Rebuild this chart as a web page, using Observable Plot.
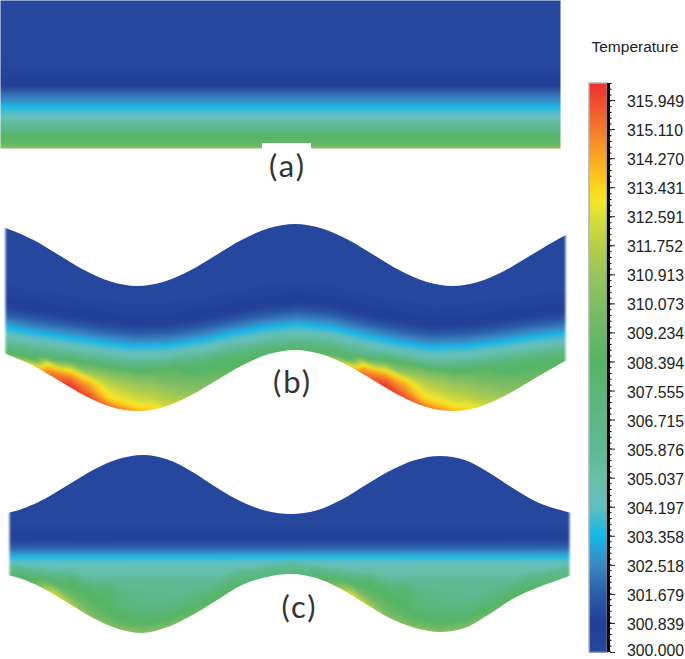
<!DOCTYPE html>
<html>
<head>
<meta charset="utf-8">
<style>html,body{margin:0;padding:0;background:#fff}svg{display:block}.panel-label text{letter-spacing:2px}</style>
<script src="https://cdn.jsdelivr.net/npm/d3@7"></script>
<script src="https://cdn.jsdelivr.net/npm/@observablehq/plot@0.6"></script>
</head>
<body>
<div id="chart"></div>
<script>
const colorStops = [300, 300.84, 301.68, 302.52, 303.4, 304.2, 305.04, 305.88, 307.55, 308.39, 310.07, 310.91, 311.75, 312.59, 313.0, 313.43, 314.27, 315.11, 316.44];
const colorRange = ["#25489f", "#233f98", "#2a5ca8", "#3a88c4", "#17b8e8", "#61bec0", "#66bfa8", "#5eba96", "#5ab678", "#55b565", "#7fbd64", "#98c65c", "#b7cf46", "#d9de3c", "#f4e62b", "#fdd719", "#f9a825", "#f37a2c", "#ee3030"];
const tickLabels = ["315.949", "315.110", "314.270", "313.431", "312.591", "311.752", "310.913", "310.073", "309.234", "308.394", "307.555", "306.715", "305.876", "305.037", "304.197", "303.358", "302.518", "301.679", "300.839", "300.000"];

// Panel (a)
const aProfileDy = [-400, -45, -21, -13, -4, 0, 3, 11, 20, 30, 38, 42];
const aProfileT = [300, 300.1, 300.8, 302, 302.8, 303.4, 303.7, 304.4, 306, 308.3, 309, 310.6];
const aCyanY = 106;

// Panel (b): walls, cyan front, temperature by distance from the front, heat by distance from the lower wall
const bTopX = [0, 6.25, 32.5, 58.75, 85, 111.25, 137.5, 163.75, 190, 216.25, 242.5, 268.75, 295, 321.25, 347.5, 373.75, 400, 426.25, 452.5, 478.75, 505, 531.25, 557.5, 572];
const bTopY = [226.5, 228.2, 239.5, 255, 270.5, 281.8, 286, 281.8, 270.5, 255, 239.5, 228.2, 224, 228.2, 239.5, 255, 270.5, 281.8, 286, 281.8, 270.5, 255, 239.5, 232];
const bBotX = [0, 6.25, 32.5, 58.75, 85, 111.25, 137.5, 163.75, 190, 216.25, 242.5, 268.75, 295, 321.25, 347.5, 373.75, 400, 426.25, 452.5, 478.75, 505, 531.25, 557.5, 572];
const bBotY = [351, 354.1, 365.25, 380.5, 395.75, 406.9, 411, 406.9, 395.75, 380.5, 365.25, 354.1, 350, 354.1, 365.25, 380.5, 395.75, 406.9, 411, 406.9, 395.75, 380.5, 365.25, 357.5];
const bCyanX = [5, 33, 67, 100, 133, 167, 200, 233, 267, 297, 330, 363, 397, 430, 463, 497, 530, 565];
const bCyanY = [327, 332, 337, 342, 346, 345, 340, 333, 327, 324, 327, 335, 342, 347, 346, 342, 337, 333];
const bProfileDy = [-400, -45, -28, -20, -12, -6, -2, 0, 2, 7, 14, 21, 28, 100];
const bProfileT = [300, 300.1, 300.7, 301, 301.8, 302.5, 303.1, 303.4, 303.7, 304.3, 305.6, 307.6, 308.3, 308.4];
const depthRows = [0, 3, 7, 12, 18, 25, 35, 45];
const bHeatX = [5, 33, 47, 70, 88, 107, 130, 153, 175, 200, 233, 267, 315];
const bHeatPeriod = 315;
const bHeatT = [
  [308.6, 308.0, 307.4, 306.0, 300, 300, 300, 300],
  [313.8, 311.5, 308.2, 307.0, 304, 300, 300, 300],
  [315.2, 314.8, 314.0, 312.2, 307.4, 304, 300, 300],
  [316.4, 316.2, 315.6, 314.6, 313.0, 309.4, 306.0, 300],
  [316.0, 315.6, 315.1, 314.5, 313.5, 311.0, 308.4, 304],
  [315.2, 314.6, 313.6, 313.0, 312.5, 311.6, 309.8, 306.0],
  [314.6, 313.8, 313.2, 312.6, 312.0, 311.3, 310.0, 307.0],
  [313.4, 313.0, 312.5, 311.9, 311.4, 310.6, 309.2, 307.0],
  [312.0, 311.6, 311.2, 310.7, 310.2, 309.4, 308.6, 306.0],
  [310.6, 310.2, 309.7, 309.2, 308.6, 307.6, 305, 300],
  [309.0, 308.6, 308.2, 307.6, 306.0, 300, 300, 300],
  [308.0, 307.5, 306.0, 304, 300, 300, 300, 300],
  [308.6, 308.0, 307.4, 306.0, 300, 300, 300, 300]
];

// Panel (c)
const cTopX = [3, 9, 19.25, 44, 68.75, 93.5, 118.25, 143, 167.75, 192.5, 217.25, 242, 266.75, 291.5, 316.25, 341, 365.75, 390.5, 415.25, 440, 464.75, 489.5, 514.25, 539, 563.75, 576];
const cTopY = [514, 512.5, 510, 499.25, 484.5, 469.75, 459, 455, 459.5, 472, 488, 502, 511, 514, 510.5, 500, 485, 470.5, 460, 456, 460, 473, 489, 503, 511, 514];
const cBotX = [3, 9, 19.25, 44, 68.75, 93.5, 118.25, 143, 167.75, 192.5, 217.25, 242, 266.75, 291.5, 316.25, 341, 365.75, 390.5, 415.25, 440, 464.75, 489.5, 514.25, 539, 563.75, 576];
const cBotY = [573.5, 575.5, 578, 588.75, 603.5, 618.25, 629, 633, 627, 615, 600, 585, 577, 574, 578, 589, 604, 618.5, 628, 632, 628, 614, 598, 587, 578, 573.5];
const cCyanX = [9, 569];
const cCyanY = [556, 555.5];
const cProfileDy = [-400, -32, -20, -14, -8, -3, 0, 2, 7, 15, 24, 40, 80];
const cProfileT = [300, 300.1, 300.7, 301.2, 301.9, 302.7, 303.4, 303.7, 304.3, 305, 305.8, 306.2, 306.4];
const cHeatX = [9, 33, 53, 70, 87, 107, 130, 167, 200, 233, 267, 293];
const cHeatPeriod = 297;
const cHeatT = [
  [307.8, 307.0, 306.0, 305.5, 300, 300, 300, 300],
  [309.5, 308.8, 308.0, 306.5, 305.0, 300, 300, 300],
  [312.8, 312.0, 310.5, 308.6, 307.0, 305.0, 300, 300],
  [311.8, 311.2, 310.0, 309.0, 308.5, 308.0, 305.0, 300],
  [310.5, 310.0, 309.4, 309.0, 308.5, 308.3, 306.5, 300],
  [310.2, 309.6, 309.0, 308.6, 308.3, 308.2, 308.0, 306.0],
  [310.6, 309.8, 308.8, 308.3, 307.9, 307.2, 306.8, 306.2],
  [310.2, 309.6, 308.8, 308.0, 307.4, 306.8, 306.4, 306.0],
  [309.2, 308.8, 308.2, 307.6, 307.0, 306.4, 300, 300],
  [308.6, 308.2, 307.6, 307.0, 306.0, 300, 300, 300],
  [307.4, 307.0, 306.4, 305.5, 300, 300, 300, 300],
  [307.2, 306.8, 306.2, 305.5, 300, 300, 300, 300]
];

const labelText = ["(a)", "(b)", "(c)"];

const pw = (xs, ys) => d3.scaleLinear().domain(xs).range(ys).clamp(true);

function field({cyanX, cyanY, botX, botY, profileDy, profileT, heatX, heatT, period}) {
  const cy = pw(cyanX, cyanY);
  const bot = pw(botX, botY);
  const prof = pw(profileDy, profileT);
  const lastX = heatX[heatX.length - 1];
  const rows = depthRows.map((_, k) => pw(heatX, heatT.map((c) => c[k])));
  return (x, y) => {
    const base = prof(y - cy(x));
    const hx = x > lastX ? x - period : x;
    const d = bot(x) - y;
    const vals = rows.map((r) => r(hx));
    const h = pw(depthRows, vals)(Math.max(0, d));
    return d > depthRows[depthRows.length - 1] ? base : Math.max(base, h);
  };
}

const profA = pw(aProfileDy, aProfileT);
const fieldA = (x, y) => profA(y - aCyanY);
const fieldB = field({cyanX: bCyanX, cyanY: bCyanY, botX: bBotX, botY: bBotY, profileDy: bProfileDy, profileT: bProfileT, heatX: bHeatX, heatT: bHeatT, period: bHeatPeriod});
const fieldC = field({cyanX: cCyanX, cyanY: cCyanY, botX: cBotX, botY: cBotY, profileDy: cProfileDy, profileT: cProfileT, heatX: cHeatX, heatT: cHeatT, period: cHeatPeriod});

const tickT = tickLabels.map(Number);
const tickPos = d3.scaleLinear().domain([300, 315.949]).range([652, 100]);
const barField = (x, y) => tickPos.invert(y);
const minorY = d3.range(83, 653, 5.8);

const curve = "catmull-rom";
const zip = (xs, ys) => xs.map((x, i) => ({x, y: ys[i]}));

const plot = Plot.plot({
  width: 685,
  height: 659,
  margin: 0,
  style: {background: "#fff", overflow: "hidden"},
  x: {axis: null, domain: [0, 685], range: [0, 685]},
  y: {axis: null, domain: [0, 659], range: [0, 659]},
  color: {type: "linear", domain: colorStops, range: colorRange, interpolate: "rgb", clamp: true},
  marks: [
    Plot.raster({fill: fieldA, x1: 0, x2: 560, y1: 0, y2: 148, pixelSize: 1}),
    Plot.rect([{x1: 262, x2: 311, y1: 143, y2: 149}], {x1: "x1", x2: "x2", y1: "y1", y2: "y2", fill: "#fff"}),

    Plot.raster({fill: fieldB, x1: 5, x2: 565, y1: 220, y2: 415, pixelSize: 1, imageFilter: "blur(1px)"}),
    Plot.areaY(zip(bTopX, bTopY), {x: "x", y1: 205, y2: "y", curve, fill: "#fff"}),
    Plot.areaY(zip(bBotX, bBotY), {x: "x", y1: "y", y2: 430, curve, fill: "#fff"}),

    Plot.raster({fill: fieldC, x1: 9, x2: 569, y1: 450, y2: 638, pixelSize: 1, imageFilter: "blur(1px)"}),
    Plot.areaY(zip(cTopX, cTopY), {x: "x", y1: 435, y2: "y", curve, fill: "#fff"}),
    Plot.areaY(zip(cBotX, cBotY), {x: "x", y1: "y", y2: 652, curve, fill: "#fff"}),

    Plot.text(labelText, {
      x: [287, 292, 299], y: [167, 383, 608], text: (d) => d, className: "panel-label",
      fontFamily: "Lato", fontSize: 31, fill: "#333", textAnchor: "middle", lineAnchor: "middle"
    }),

    Plot.raster({fill: barField, x1: 589, x2: 607, y1: 83, y2: 652, pixelSize: 1}),
    Plot.rect([0], {x1: 589, x2: 607, y1: 83, y2: 652, stroke: "#8a8a8a", strokeWidth: 1, fill: "none"}),
    Plot.rect([0], {x1: 607, x2: 610, y1: 83, y2: 652, fill: "#000"}),
    Plot.ruleY(minorY, {y: (d) => d, x1: 610, x2: 611.5, stroke: "#000", strokeWidth: 1}),
    Plot.ruleY(tickT, {y: (d) => tickPos(d), x1: 610, x2: 615, stroke: "#222", strokeWidth: 1}),
    Plot.text(tickLabels, {
      x: 626.5, y: (d) => Math.min(tickPos(+d) + 1.5, 650), text: (d) => d,
      fontFamily: "Liberation Sans", fontSize: 15.8, fill: "#222", textAnchor: "start", lineAnchor: "middle"
    }),
    Plot.text(["Temperature"], {
      x: 591, y: 47, text: (d) => d,
      fontFamily: "Liberation Sans", fontSize: 15.5, fill: "#222", textAnchor: "start", lineAnchor: "middle"
    })
  ]
});
document.getElementById("chart").appendChild(plot);
</script>
</body>
</html>
